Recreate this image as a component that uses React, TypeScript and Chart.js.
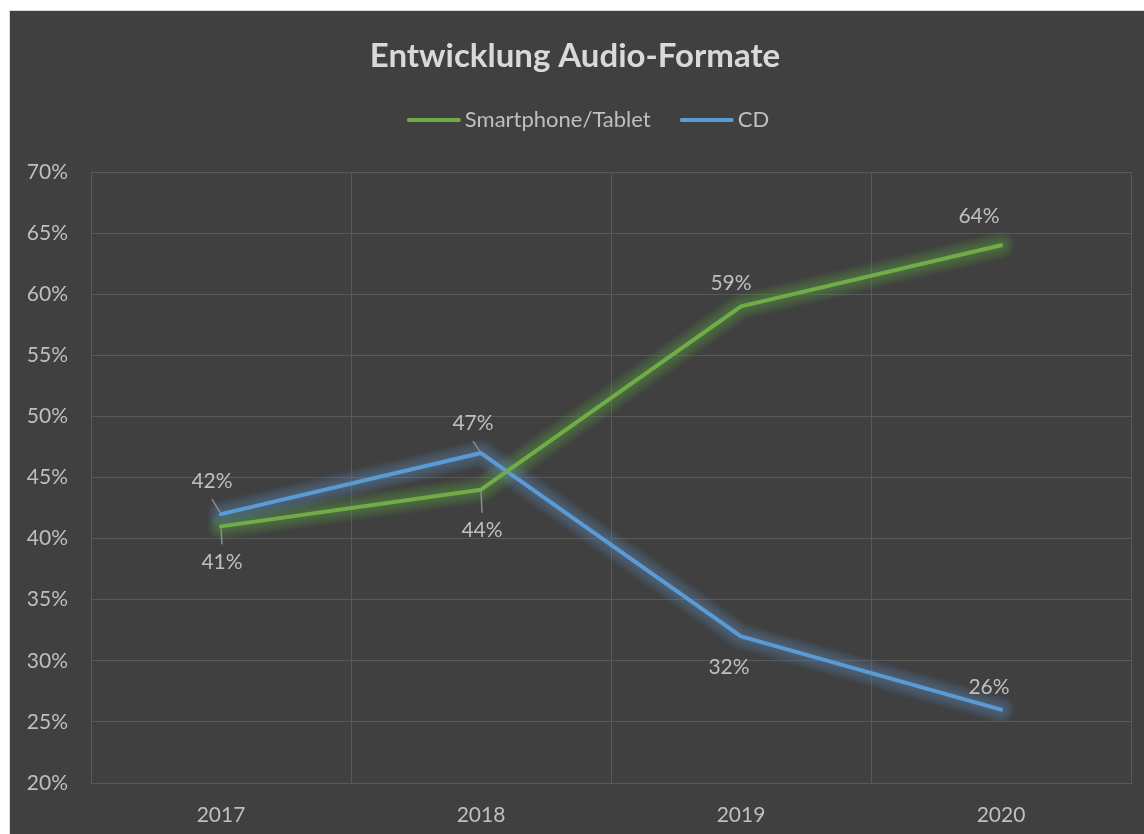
import React, { useEffect, useRef } from "react";
import { Chart, registerables } from "chart.js";

Chart.register(...registerables);

const title = "Entwicklung Audio-Formate";
const categories = ["2017", "2018", "2019", "2020"];
const smartphoneLabel = "Smartphone/Tablet";
const cdLabel = "CD";
const smartphoneValues = [41, 44, 59, 64];
const cdValues = [42, 47, 32, 26];
const yMin = 20;
const yMax = 70;
const yStep = 5;

// label placement (style config, not data)
const smartLabelOffsets = [[1, 36], [1, 41], [-10, -23], [-22, -29]];
const cdLabelOffsets = [[-9, -33], [-8, -30], [-12, 31], [-12, -22]];
const smartLeaders = [true, true, false, false];
const cdLeaders = [true, true, false, false];

const GREEN = "#70ad47";
const BLUE = "#5b9bd5";
const GRID = "#595959";
const TEXT = "#bfbfbf";
const FONT = "Lato, 'Open Sans', sans-serif";

export default function App() {
  const ref = useRef<HTMLCanvasElement | null>(null);

  useEffect(() => {
    if (!ref.current) return;
    const glowRgb = ["112,173,71", "91,155,213"];
    const glow = {
      id: "glow",
      beforeDatasetsDraw(chart: any) {
        const ctx = chart.ctx;
        chart.data.datasets.forEach((_ds: any, di: number) => {
          const meta = chart.getDatasetMeta(di);
          const pts = meta.data;
          for (let w = 28; w >= 6; w -= 2) {
            ctx.save();
            ctx.strokeStyle = `rgba(${glowRgb[di]},0.04)`;
            ctx.lineWidth = w;
            ctx.lineJoin = "round";
            ctx.lineCap = "round";
            ctx.beginPath();
            pts.forEach((pt: any, i: number) => {
              if (i === 0) ctx.moveTo(pt.x, pt.y);
              else ctx.lineTo(pt.x, pt.y);
            });
            ctx.stroke();
            ctx.restore();
          }
        });
      },
    };
    const labels = {
      id: "dlabels",
      afterDatasetsDraw(chart: any) {
        const ctx = chart.ctx;
        const offs = [smartLabelOffsets, cdLabelOffsets];
        const leads = [smartLeaders, cdLeaders];
        chart.data.datasets.forEach((ds: any, di: number) => {
          const meta = chart.getDatasetMeta(di);
          meta.data.forEach((pt: any, i: number) => {
            const [dx, dy] = offs[di][i];
            const lx = pt.x + dx;
            const ly = pt.y + dy;
            ctx.save();
            ctx.font = `21px ${FONT}`;
            ctx.fillStyle = TEXT;
            ctx.textAlign = "center";
            ctx.textBaseline = "middle";
            ctx.fillText(ds.data[i] + "%", lx, ly);
            if (leads[di][i]) {
              const sign = dy > 0 ? -1 : 1;
              const sx = lx;
              const sy = ly + sign * 18;
              const vx = pt.x - sx;
              const vy = pt.y - sy;
              const len = Math.hypot(vx, vy);
              const ex = pt.x - (vx / len) * 2;
              const ey = pt.y - (vy / len) * 2;
              ctx.strokeStyle = "#8c8c8c";
              ctx.lineWidth = 1.5;
              ctx.beginPath();
              ctx.moveTo(sx, sy);
              ctx.lineTo(ex, ey);
              ctx.stroke();
            }
            ctx.restore();
          });
        });
      },
    };
    const header = {
      id: "header",
      afterDraw(chart: any) {
        const ctx = chart.ctx;
        ctx.save();
        ctx.font = `bold 33px ${FONT}`;
        ctx.fillStyle = "#d9d9d9";
        ctx.textAlign = "center";
        ctx.textBaseline = "middle";
        ctx.fillText(title, 565, 45);
        // legend
        ctx.font = `22px ${FONT}`;
        const items = [
          { t: smartphoneLabel, c: GREEN },
          { t: cdLabel, c: BLUE },
        ];
        const lineW = 54;
        const gap = 4;
        const itemGap = 29;
        let total = 0;
        items.forEach((it, k) => {
          total += lineW + gap + ctx.measureText(it.t).width + (k < items.length - 1 ? itemGap : 0);
        });
        let x = 578 - total / 2;
        const y = 109;
        items.forEach((it) => {
          ctx.strokeStyle = it.c;
          ctx.lineWidth = 4;
          ctx.lineCap = "round";
          ctx.beginPath();
          ctx.moveTo(x + 2, y);
          ctx.lineTo(x + lineW - 2, y);
          ctx.stroke();
          x += lineW + gap;
          ctx.fillStyle = TEXT;
          ctx.textAlign = "left";
          ctx.fillText(it.t, x, y);
          x += ctx.measureText(it.t).width + itemGap;
        });
        ctx.restore();
      },
    };

    const chart = new Chart(ref.current, {
      type: "line",
      data: {
        labels: categories,
        datasets: [
          {
            label: smartphoneLabel,
            data: smartphoneValues,
            borderColor: GREEN,
            backgroundColor: GREEN,
            borderWidth: 4,
            pointRadius: 0,
            borderCapStyle: "round",
            borderJoinStyle: "round",
            tension: 0,
          },
          {
            label: cdLabel,
            data: cdValues,
            borderColor: BLUE,
            backgroundColor: BLUE,
            borderWidth: 4,
            pointRadius: 0,
            borderCapStyle: "round",
            borderJoinStyle: "round",
            tension: 0,
          },
        ],
      },
      options: {
        animation: false,
        responsive: false,
        layout: { padding: { top: 161, right: 13, left: 0, bottom: 0 } },
        plugins: {
          legend: { display: false },
          title: { display: false },
          tooltip: { enabled: false },
        },
        scales: {
          x: {
            offset: true,
            grid: { color: GRID, lineWidth: 1, drawTicks: false, offset: true },
            border: { color: GRID },
            ticks: { color: TEXT, font: { family: FONT, size: 21 }, padding: 20 },
            afterFit(scale: any) {
              scale.height = 51;
            },
          },
          y: {
            min: yMin,
            max: yMax,
            grid: { color: GRID, lineWidth: 1, drawTicks: false },
            border: { color: GRID },
            ticks: {
              stepSize: yStep,
              color: TEXT,
              font: { family: FONT, size: 21 },
              padding: 23,
              callback: (v: any) => v + "%",
            },
            afterFit(scale: any) {
              scale.width = 81;
            },
          },
        },
      },
      plugins: [glow, labels, header],
    } as any);
    return () => chart.destroy();
  }, []);

  return (
    <div style={{ position: "fixed", left: 0, top: 0, width: 1144, height: 834, background: "#fff", overflow: "hidden" }}>
      <div
        style={{
          position: "absolute",
          left: 9,
          top: 10,
          width: 1140,
          height: 830,
          background: "#404040",
          border: "1px solid #d9d9d9",
        }}
      >
        <canvas ref={ref} width={1134} height={823} style={{ display: "block", width: 1134, height: 823 }} />
      </div>
    </div>
  );
}
